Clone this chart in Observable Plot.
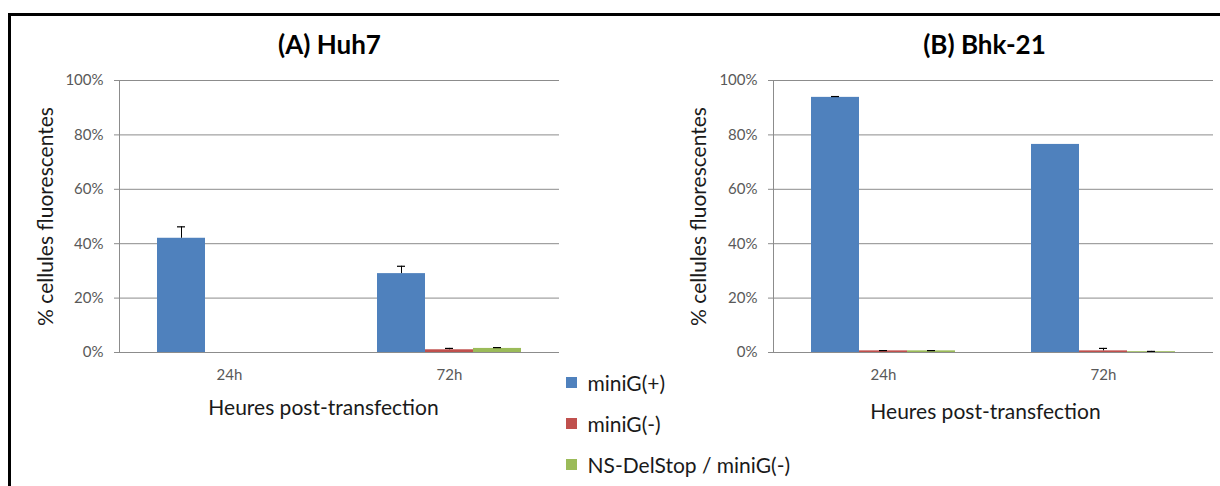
<!DOCTYPE html>
<html>
<head>
<meta charset="utf-8">
<script src="https://cdn.jsdelivr.net/npm/d3@7"></script>
<script src="https://cdn.jsdelivr.net/npm/@observablehq/plot@0.6"></script>
<style>
  html, body { margin: 0; padding: 0; background: #fff; }
  body { width: 1220px; height: 486px; position: relative; overflow: hidden; font-family: Lato, "Open Sans", sans-serif; }
  #border { position: absolute; left: 8px; top: 13px; width: 1300px; height: 600px; border: 3px solid #000; box-sizing: border-box; }
  #left, #right, #legend { position: absolute; top: 0; }
  #left { left: 0; }
  #right { left: 655px; }
  #legend { left: 566px; top: 362px; }
  #legend > div { margin: 0 !important; }
  #legend > div > div { height: 41px; display: flex; align-items: center; margin: 0; padding: 0; font-size: 21px; color: #1a1a1a; }
</style>
</head>
<body>
<div id="border"></div>
<div id="left"></div>
<div id="right"></div>
<div id="legend"></div>
<script>
// ---- data ----
const times = ["24h", "72h"];
const series = ["miniG(+)", "miniG(-)", "NS-DelStop / miniG(-)"];
const colors = ["#4F81BD", "#C0504D", "#9BBB59"];
const yTicks = [0, 0.2, 0.4, 0.6, 0.8, 1.0];

// values [time][series], fraction of cells
const huh7Values = [[0.42, 0.0, 0.0], [0.29, 0.010, 0.015]];
const huh7Errors = [[0.042, 0.0, 0.0], [0.027, 0.005, 0.003]];
const bhkValues = [[0.938, 0.006, 0.006], [0.765, 0.006, 0.003]];
const bhkErrors = [[0.003, 0.001, 0.001], [0.0, 0.009, 0.001]];

function rowsOf(values, errors) {
  const rows = [];
  times.forEach((t, i) => series.forEach((s, j) =>
    rows.push({time: t, series: s, value: values[i][j], err: errors[i][j], top: values[i][j] + errors[i][j]})));
  return rows;
}

function panel({values, errors, title, width, marginRight, titleDx, xLabelDx, xLabelDy, yLabelDx}) {
  const rows = rowsOf(values, errors);
  const errRows = rows.filter(d => d.err > 0);
  return Plot.plot({
    width, height: 440,
    marginLeft: 118, marginRight, marginTop: 80, marginBottom: 88,
    style: {fontFamily: "Lato, 'Open Sans', sans-serif", fontSize: "15px", color: "#595959", background: "transparent", overflow: "visible"},
    fx: {domain: times, padding: 0, label: null, axis: null},
    x: {domain: series, paddingInner: 0, paddingOuter: 0.75, axis: null},
    y: {domain: [0, 1], axis: null},
    color: {domain: series, range: colors},
    marks: [
      Plot.ruleY(yTicks, {stroke: "#8c8c8c", strokeWidth: 1}),
      Plot.frame({anchor: "left", stroke: "#8c8c8c", facet: "super"}),
      Plot.axisY({ticks: yTicks, tickFormat: d3.format(".0%"), tickSize: 5, tickPadding: 11, stroke: "#8c8c8c", label: null, fontSize: 15}),
      Plot.axisFx({anchor: "bottom", tickSize: 0, tickPadding: 17, label: null, fontSize: 15}),
      Plot.barY(rows, {fx: "time", x: "series", y: "value", fill: "series"}),
      Plot.ruleX(errRows, {fx: "time", x: "series", y1: "value", y2: "top", stroke: "#000", strokeWidth: 1}),
      Plot.tickY(errRows, {fx: "time", x: "series", y: "top", stroke: "#000", strokeWidth: 1.2, insetLeft: 20, insetRight: 20}),
      Plot.text([title], {facet: "super", frameAnchor: "top", lineAnchor: "middle", textAnchor: "middle", dy: -35, dx: titleDx, fontSize: 26, fontWeight: "bold", fill: "#000"}),
      Plot.text(["Heures post-transfection"], {facet: "super", frameAnchor: "bottom", lineAnchor: "middle", textAnchor: "middle", dy: xLabelDy, dx: xLabelDx, fontSize: 21, fill: "#1a1a1a"}),
      Plot.text(["% cellules fluorescentes"], {facet: "super", frameAnchor: "left", lineAnchor: "middle", textAnchor: "middle", dx: yLabelDx, rotate: -90, fontSize: 21, fill: "#1a1a1a"})
    ]
  });
}

document.getElementById("left").append(panel({
  values: huh7Values, errors: huh7Errors, title: "(A) Huh7",
  width: 580, marginRight: 21, titleDx: -10, xLabelDx: -16, xLabelDy: 56, yLabelDx: -73
}));
document.getElementById("right").append(panel({
  values: bhkValues, errors: bhkErrors, title: "(B) Bhk-21",
  width: 565, marginRight: 7, titleDx: -9, xLabelDx: -8, xLabelDy: 60, yLabelDx: -74
}));

document.getElementById("legend").append(Plot.legend({
  color: {domain: series, range: colors},
  legend: "swatches", columns: 1, swatchSize: 11,
  style: {fontFamily: "Lato, 'Open Sans', sans-serif", fontSize: "21px", color: "#1a1a1a", background: "transparent"}
}));
</script>
</body>
</html>
